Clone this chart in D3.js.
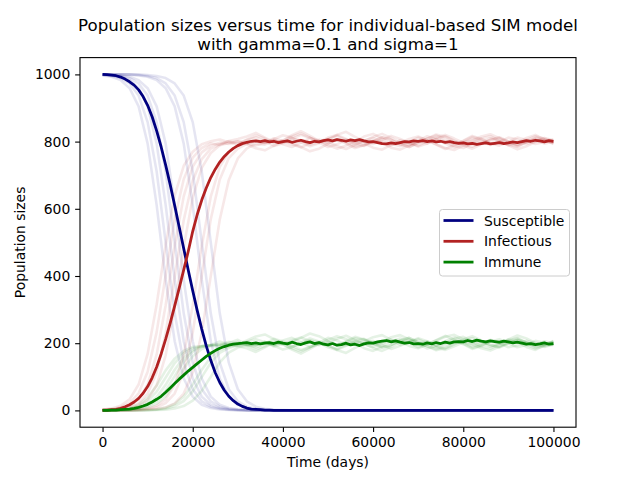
<!DOCTYPE html>
<html>
<head>
<meta charset="utf-8">
<script src="https://cdn.jsdelivr.net/npm/d3@7"></script>
<style>
  body { margin: 0; background: #fff; }
  text { font-family: "DejaVu Sans", sans-serif; fill: #000; }
</style>
</head>
<body>
<div id="chart"></div>
<script>
// mean curves, one value every 1000 days
var meanDays = d3.range(0, 100001, 1000);
var meanSus = [1000,999,998,996,992,986,978,968,954,934,908,874,832,784,730,672,610,546,482,418,
  356,297,242,192,149,112,83,60,42,29,19,12,7,4,3,2,1,1,0,0,
  0,0,0,0,0,0,0,0,0,0,0,0,0,0,0,0,0,0,0,0,
  0,0,0,0,0,0,0,0,0,0,0,0,0,0,0,0,0,0,0,0,
  0,0,0,0,0,0,0,0,0,0,0,0,0,0,0,0,0,0,0,0,0];
var meanInf = [1,1,2,3,6,11,17,25,36,51,71,97,129,168,212,260,311,364,418,473,
  533,583,626,662,693,718,739,756,769,780,788,794,798,801,802,800,803,799,801,797,
  800,802,798,801,804,800,797,801,799,803,805,802,806,804,801,805,803,806,802,799,
  800,797,794,793,796,794,797,800,799,802,801,803,800,802,799,801,798,800,797,795,
  796,793,795,792,794,796,793,795,797,794,796,799,797,800,803,801,804,802,799,803,801];
var meanImm = [0,0,1,1,2,3,4,6,9,13,18,25,33,42,54,67,80,93,105,117,
  128,139,150,161,170,178,185,190,194,197,199,200,202,199,201,198,200,202,199,203,
  200,198,203,199,196,201,204,199,202,197,195,199,194,196,200,195,197,193,198,201,
  200,204,206,208,204,207,203,200,202,198,199,197,201,198,202,199,203,200,204,205,
  204,208,205,209,206,204,207,205,203,206,204,201,203,200,197,199,196,198,201,197,199];

// single runs, one value every 2000 days
var runDays = d3.range(0, 100001, 2000);

var susA = [997,993,983,959,905,794,611,389,206,95,41,17,7,3,1,0,0,0,0,0,0,0,0,0,0,0,0,0,0,0,0,0,0,0,0,0,0,0,0,0,0,0,0,0,0,0,0,0,0,0,0];
var infA = [2,6,14,33,77,168,315,492,640,728,770,792,801,806,798,
  790,805,812,801,787,795,808,820,811,798,784,792,806,799,815,823,809,794,786,798,812,804,791,778,790,803,817,808,795,801,789,797,811,820,806,798];
var immA = [1,1,3,8,18,38,74,119,154,177,189,191,192,191,201,
  210,195,188,199,213,205,192,180,189,202,216,208,194,201,185,177,191,206,214,202,188,196,209,222,210,197,183,192,205,199,211,203,189,180,194,202];

var susB = [998,995,989,973,937,858,711,500,289,142,63,27,11,5,2,1,0,0,0,0,0,0,0,0,0,0,0,0,0,0,0,0,0,0,0,0,0,0,0,0,0,0,0,0,0,0,0,0,0,0,0];
var infB = [2,4,9,22,51,115,233,402,570,688,752,781,795,790,802,808,
  815,826,812,798,803,819,831,817,802,795,807,794,781,789,801,813,806,792,784,797,809,821,814,800,788,779,792,805,811,798,786,799,812,807,795];
var immB = [0,1,2,5,12,27,56,98,141,170,185,192,194,205,196,191,
  185,174,188,202,197,181,169,183,198,205,193,206,219,211,199,187,194,208,216,203,191,179,186,200,212,221,208,195,189,202,214,201,188,193,205];

var susC = [999,997,993,983,959,905,794,611,389,206,95,41,17,7,3,1,0,0,0,0,0,0,0,0,0,0,0,0,0,0,0,0,0,0,0,0,0,0,0,0,0,0,0,0,0,0,0,0,0,0,0];
var infC = [1,2,6,14,33,77,166,313,490,637,726,768,788,797,793,801,
  792,780,774,788,801,796,784,771,779,793,806,798,785,790,803,797,782,776,789,801,794,808,816,803,791,785,797,810,802,789,777,786,799,805,793];
var immC = [0,1,1,3,8,18,40,76,121,157,179,191,195,196,204,198,
  208,220,226,212,199,204,216,229,221,207,194,202,215,210,197,203,218,224,211,199,206,192,184,197,209,215,203,190,198,211,223,214,201,195,207];

var susD = [999,998,995,989,973,937,858,711,500,289,142,63,27,11,5,2,1,0,0,0,0,0,0,0,0,0,0,0,0,0,0,0,0,0,0,0,0,0,0,0,0,0,0,0,0,0,0,0,0,0,0];
var infD = [1,2,4,9,21,50,113,230,398,566,684,748,779,792,801,794,806,
  818,809,796,803,815,824,812,799,806,820,829,814,801,793,805,817,808,796,788,801,812,820,809,797,803,815,822,810,798,791,804,816,809,802];
var immD = [0,0,1,2,6,13,29,59,102,145,174,189,194,197,194,204,193,
  182,191,204,197,185,176,188,201,194,180,171,186,199,207,195,183,192,204,212,199,188,180,191,203,197,185,178,190,202,209,196,184,191,198];

var susE = [1000,999,997,993,983,959,905,794,611,389,206,95,41,17,7,3,1,0,0,0,0,0,0,0,0,0,0,0,0,0,0,0,0,0,0,0,0,0,0,0,0,0,0,0,0,0,0,0,0,0,0];
var infE = [0,1,2,5,13,32,75,164,309,486,633,722,766,789,796,801,795,
  788,797,810,802,791,783,795,806,799,787,778,790,803,811,800,789,796,808,815,804,792,781,775,789,800,794,806,813,801,790,797,809,803,796];
var immE = [0,0,1,2,4,9,20,42,80,125,161,183,193,194,197,196,204,
  212,203,190,198,209,217,205,194,201,213,222,210,197,189,200,211,204,192,185,196,208,219,225,211,200,206,194,187,199,210,203,191,197,204];

var susF = [1000,1000,1000,999,997,993,983,959,905,794,611,389,206,95,41,17,7,3,1,0,0,0,0,0,0,0,0,0,0,0,0,0,0,0,0,0,0,0,0,0,0,0,0,0,0,0,0,0,0,0,0];
var infF = [0,0,0,1,2,6,14,33,76,165,312,490,636,725,769,789,797,803,795,
  807,819,812,798,786,795,808,817,805,792,801,814,823,811,797,789,802,816,808,794,783,796,809,801,790,799,812,806,793,800,811,804];
var immF = [0,0,0,0,1,1,3,8,19,41,77,121,158,180,190,194,196,194,204,
  193,181,188,202,214,205,192,183,195,208,199,186,177,189,203,211,198,184,192,206,217,204,191,199,210,201,188,194,207,200,189,196];

var susG = [1000,1000,1000,1000,998,995,989,973,937,858,711,500,289,142,63,27,11,5,2,1,0,0,0,0,0,0,0,0,0,0,0,0,0,0,0,0,0,0,0,0,0,0,0,0,0,0,0,0,0,0,0];
var infG = [0,0,0,0,2,4,9,22,50,114,232,401,569,687,751,779,793,801,797,805,
  792,784,797,811,803,790,779,788,801,795,782,776,790,804,797,785,794,808,800,787,781,795,809,816,802,791,785,798,806,794,800];
var immG = [0,0,0,0,0,1,2,5,13,28,57,99,142,171,186,194,196,194,201,194,
  208,216,203,189,197,210,221,212,199,205,218,224,210,196,203,215,206,192,200,213,219,205,191,184,198,209,215,202,194,206,200];

var susH = [1000,1000,1000,1000,1000,998,995,989,973,937,858,711,500,289,142,63,27,11,5,2,1,0,0,0,0,0,0,0,0,0,0,0,0,0,0,0,0,0,0,0,0,0,0,0,0,0,0,0,0,0,0];
var infH = [0,0,0,0,0,2,4,9,21,50,113,231,400,568,686,750,780,794,791,803,797,
  810,803,791,798,812,820,808,795,787,799,813,805,792,784,796,809,818,806,793,801,814,807,795,788,800,812,805,793,799,806];
var immH = [0,0,0,0,0,0,1,2,6,13,29,58,100,143,172,187,193,195,204,195,202,
  190,197,209,202,188,180,192,205,213,201,187,195,208,216,204,191,182,194,207,199,186,193,205,212,200,188,195,207,201,194];

var xTicks = [0, 20000, 40000, 60000, 80000, 100000];
var yTicks = [0, 200, 400, 600, 800, 1000];
var seriesNames = ["Susceptible", "Infectious", "Immune"];
var seriesColors = ["#000080", "#b22222", "#008000"];

function drawChart() {
  var width = 640, height = 480;
  var plotLeft = 80, plotRight = 576, plotTop = 57.6, plotBottom = 427.2;

  var svg = d3.select("#chart").append("svg")
    .attr("width", width)
    .attr("height", height);

  svg.append("rect").attr("width", width).attr("height", height).attr("fill", "#fff");

  var x = d3.scaleLinear().domain([-5000, 105000]).range([plotLeft, plotRight]);
  var y = d3.scaleLinear().domain([-50, 1050]).range([plotBottom, plotTop]);

  function lineFor(days) {
    return d3.line()
      .x(function(d, i) { return x(days[i]); })
      .y(function(d) { return y(d); });
  }

  var plot = svg.append("g");

  // faint single runs first
  var runs = [
    [susA, infA, immA], [susB, infB, immB], [susC, infC, immC], [susD, infD, immD],
    [susE, infE, immE], [susF, infF, immF], [susG, infG, immG], [susH, infH, immH]
  ];
  var runLine = lineFor(runDays);
  runs.forEach(function(run) {
    run.forEach(function(vals, k) {
      plot.append("path")
        .attr("d", runLine(vals))
        .attr("fill", "none")
        .attr("stroke", seriesColors[k])
        .attr("stroke-opacity", 0.1)
        .attr("stroke-width", 2.6)
        .attr("stroke-linejoin", "round");
    });
  });

  // mean curves on top
  var meanLine = lineFor(meanDays);
  [meanSus, meanInf, meanImm].forEach(function(vals, k) {
    plot.append("path")
      .attr("d", meanLine(vals))
      .attr("fill", "none")
      .attr("stroke", seriesColors[k])
      .attr("stroke-width", 2.78)
      .attr("stroke-linejoin", "round");
  });

  // axes
  var xAxis = d3.axisBottom(x).tickValues(xTicks).tickSize(4.86).tickPadding(4.86).tickFormat(d3.format("d"));
  var yAxis = d3.axisLeft(y).tickValues(yTicks).tickSize(4.86).tickPadding(4.86).tickFormat(d3.format("d"));

  var gx = svg.append("g").attr("transform", "translate(0," + plotBottom + ")").call(xAxis);
  var gy = svg.append("g").attr("transform", "translate(" + plotLeft + ",0)").call(yAxis);
  [gx, gy].forEach(function(g) {
    g.select(".domain").remove();
    g.selectAll(".tick line").attr("stroke", "#000").attr("stroke-width", 1.1);
    g.selectAll(".tick text").attr("font-size", "13.9px").attr("font-family", "DejaVu Sans").attr("fill", "#000");
  });
  gx.selectAll(".tick text").attr("dy", "0.71em");

  // frame
  svg.append("rect")
    .attr("x", plotLeft).attr("y", plotTop)
    .attr("width", plotRight - plotLeft).attr("height", plotBottom - plotTop)
    .attr("fill", "none").attr("stroke", "#000").attr("stroke-width", 1.1);

  // titles
  var midX = (plotLeft + plotRight) / 2;
  svg.append("text").attr("x", midX).attr("y", 30.5)
    .attr("text-anchor", "middle").attr("font-size", "16.67px")
    .text("Population sizes versus time for individual-based SIM model");
  svg.append("text").attr("x", midX).attr("y", 50)
    .attr("text-anchor", "middle").attr("font-size", "16.67px")
    .text("with gamma=0.1 and sigma=1");

  svg.append("text").attr("x", midX).attr("y", 467)
    .attr("text-anchor", "middle").attr("font-size", "13.9px")
    .text("Time (days)");
  svg.append("text")
    .attr("transform", "translate(25," + ((plotTop + plotBottom) / 2) + ") rotate(-90)")
    .attr("text-anchor", "middle").attr("font-size", "13.9px")
    .text("Population sizes");

  // legend
  var legend = svg.append("g").attr("transform", "translate(439.5,209.5)");
  legend.append("rect")
    .attr("width", 130).attr("height", 66.5).attr("rx", 3)
    .attr("fill", "#fff").attr("fill-opacity", 0.8)
    .attr("stroke", "#cccccc").attr("stroke-width", 1);
  seriesNames.forEach(function(name, i) {
    var row = legend.append("g").attr("transform", "translate(0," + (11 + i * 20.8) + ")");
    row.append("line")
      .attr("x1", 4).attr("x2", 34).attr("y1", 0).attr("y2", 0)
      .attr("stroke", seriesColors[i]).attr("stroke-width", 2.78);
    row.append("text").attr("x", 44.5).attr("y", 0).attr("dy", "0.36em")
      .attr("font-size", "13.9px").text(name);
  });
}

drawChart();
</script>
</body>
</html>
